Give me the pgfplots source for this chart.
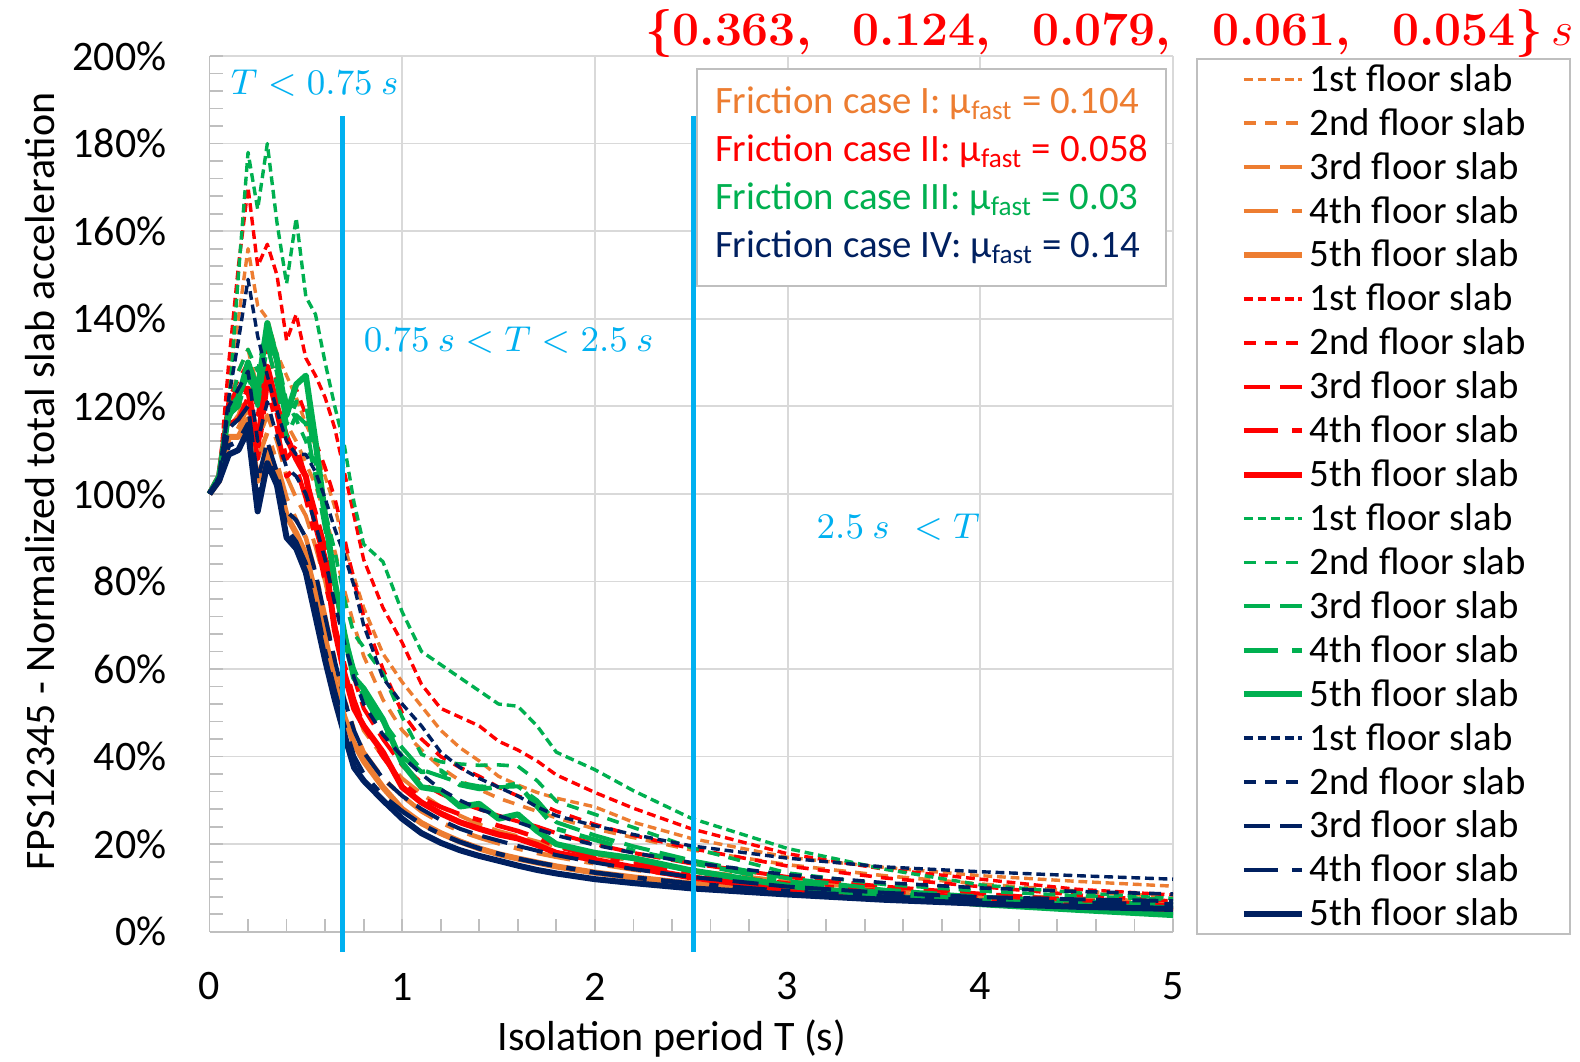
\documentclass[border=0pt]{standalone}
\usepackage{amsmath}
\usepackage{fontspec}
\setmainfont{Carlito}
\usepackage{pgfplots}
\pgfplotsset{compat=1.18}
\usepackage{pgfplotstable}

\definecolor{cOrange}{HTML}{ED7D31}
\definecolor{cRed}{HTML}{FF0000}
\definecolor{cGreen}{HTML}{00B050}
\definecolor{cNavy}{HTML}{002060}
\definecolor{cCyan}{HTML}{00B0F0}
\definecolor{gridgray}{HTML}{D9D9D9}
\definecolor{axisgray}{HTML}{BFBFBF}

% line styles of the five floor slabs
\pgfplotsset{
  slabA/.style={line width=0.85pt, dash pattern=on 2.2pt off 1.2pt},
  slabB/.style={line width=0.9pt, dash pattern=on 3pt off 2.3pt},
  slabC/.style={line width=1pt, dash pattern=on 6.5pt off 2.6pt},
  slabD/.style={line width=1.15pt, dash pattern=on 8.5pt off 3.6pt on 2.3pt off 3.6pt},
  slabE/.style={line width=1.5pt, solid},
}

% Friction case I
\pgfplotstableread{
T f1 f2 f3 f4 f5
0 100 100 100 100 100
0.05 104 104 103 103 103
0.1 125 120 115 112 113
0.15 140 128 118 115 113
0.2 156 133 124 120 117
0.25 143 124 112 108 103
0.3 140 128 118 114 110
0.35 132 122 112 107 104
0.4 127 116 104 99 95
0.45 122 112 99 94 91
0.5 116 107 95 90 86
0.55 111 102 88 82 77
0.6 104 95 80 72 67
0.65 97 87 70 62 57
0.7 88 78 60 53 49
0.75 81 70 52 46 43
0.8 74 63 46 41 39
0.9 63.5 53 40 35 33
1.0 57 46 35 31 28
1.1 51.5 41.5 31.5 27.5 24.8
1.2 46 37.5 28.5 25 22.5
1.3 42 34.5 26.5 23 20.6
1.4 39 32.5 24.5 21.5 19
1.5 35.5 30.5 23 20.2 17.7
1.6 33.5 29 21.8 19 16.7
1.7 31.8 27.5 20.6 18 15.8
1.8 30.5 26 19.5 17.1 14.9
2.0 28.5 23.5 17.6 15.6 13.5
2.2 25 21.5 16.2 14.2 12.4
2.5 21.3 18.7 14 12.5 11
3.0 17 15.3 11.5 10.3 9
3.5 14.7 12.8 9.8 8.8 7.7
4.0 12.8 10.9 8.5 7.6 6.6
4.5 11.5 9.3 7.6 6.6 5.7
5.0 10.4 8.0 6.8 5.8 5.0
}\caseI

% Friction case II
\pgfplotstableread{
T f1 f2 f3 f4 f5
0 100 100 100 100 100
0.05 104 104 103 103 104
0.1 130 122 118 116 120
0.15 152 126 120 117 124
0.2 170 130 124 122 124
0.25 152 118 110 108 111
0.3 157 134 127 125 129
0.35 150 125 118 115 120
0.4 135 120 108 104 113
0.45 141 124 111 106 108
0.5 131 118 104 99 104
0.55 127 112 96 90 93
0.6 122 106 88 80 85
0.65 115 99 78 70 69
0.7 105 90 68 61 59
0.75 95 80 58 53 51
0.8 85 72 51 47 47
0.9 74 60 44 40 41
1.0 66 50 38 34 33
1.1 56.5 44 34 30.5 29.5
1.2 51 40 31.5 28.5 27
1.3 49 37.5 29.5 26.8 25
1.4 47 35.5 28 25.5 23.5
1.5 43.5 33 26.5 24.2 22.2
1.6 41.5 31 25.2 23 21.3
1.7 39 29.5 24 21.5 19.8
1.8 35.8 27.5 22.5 19.5 18
2.0 31.8 24.5 20 17.2 16.4
2.2 28.2 22 18 15.5 14.7
2.5 23.5 19 15.6 13.5 12.4
3.0 17.8 15 12.5 11 9.6
3.5 14.3 12.3 10.3 9.2 7.8
4.0 12 10.3 8.7 7.7 6.4
4.5 9.7 8.4 7.2 6.5 5.4
5.0 8.4 7.0 6.0 5.5 4.7
}\caseII

% Friction case III
\pgfplotstableread{
T f1 f2 f3 f4 f5
0 100 100 100 100 100
0.05 103 104 103 104 104
0.1 120 118 117 118 119
0.15 150 128 122 120 122
0.2 178 133 127 128 130
0.25 165 128 120 121 123.5
0.3 180 139 134 136 139
0.35 162 132 125 128 130.5
0.4 148 121 113 116 118
0.45 163 117 118 121 125
0.5 145 112 116 121 127
0.55 141 105 104 108 112
0.6 130 96 92 94 95
0.65 120 87 80 80 80
0.7 111 76 68 68 68
0.75 98 68 60 58 58
0.8 88.5 65 55 54 55.5
0.9 84.5 59 48 46 48.5
1.0 73 49 42 40 38.5
1.1 64 40.5 37 36.5 33
1.2 61 38.8 35.5 36.8 32.3
1.3 58 38.3 34 33.5 28.6
1.4 55 38 33.2 32.6 29.2
1.5 52 38.1 33 33 25.8
1.6 51.5 37.8 33.2 33.8 26.8
1.7 47 34.5 30 28.5 23
1.8 41 29.8 25 23.5 20
2.0 37 26.8 22 21 18
2.2 32.2 23.8 19.5 18.5 16.8
2.5 25.9 19.2 16.3 15.7 14
3.0 19 13.4 12.2 11.5 10.5
3.5 14.3 10.8 9.6 8.9 8.2
4.0 10.7 9.3 8 7.2 6.3
4.5 8.9 8.2 7 6.2 5
5.0 7.6 7.3 6.3 5.5 3.8
}\caseIII

% Friction case IV
\pgfplotstableread{
T f1 f2 f3 f4 f5
0 100 100 100 100 100
0.05 104 104 103 103 103
0.1 122 120 115 111 109
0.15 135 124 117 112 110
0.2 149 128 120 116 114.5
0.25 136 112 103 98 96
0.3 127 121 112 108 107
0.35 119 113 105 103 102
0.4 112 106 96 92 90
0.45 109 104 94 89 87.5
0.5 109 100 90 84 82
0.55 105 93 82 75 72
0.6 99 85 72 64 62
0.65 92 75 62 55 53
0.7 86 66 53 47 45
0.75 79 58 46 40 37.5
0.8 70 52 41 36 34.5
0.9 58 45 35 31 30
1.0 52 40 31 27.5 25.8
1.1 47 36 28 24.5 22.5
1.2 41 32.5 25.5 22.3 20.3
1.3 37.5 30 23.5 20.5 18.6
1.4 35 28 22 19 17.3
1.5 33 26.5 20.8 17.8 16.2
1.6 31 25 19.6 16.7 15.1
1.7 28.5 23.5 18.5 15.8 14.1
1.8 26.5 22 17.5 15 13.3
2.0 24.2 19.8 15.8 13.5 12
2.2 22.2 18 14.3 12.4 11.1
2.5 19.6 15.8 12.5 11 9.9
3.0 16.8 13 10.3 9.2 8.5
3.5 14.8 11.2 8.9 8 7.3
4.0 13.7 10 7.9 7.1 6.4
4.5 12.8 9.2 7.4 6.6 5.7
5.0 12.0 8.6 7.0 6.2 5.2
}\caseIV

\begin{document}
\begin{tikzpicture}
\useasboundingbox (0,0) rectangle (395pt,265.25pt);
\begin{axis}[
  at={(52.375pt,32.325pt)}, anchor=south west,
  width=240.875pt, height=218.925pt, scale only axis,
  xmin=0, xmax=5, ymin=0, ymax=200,
  enlargelimits=false,
  clip=false,
  axis lines=left,
  axis line style={-, draw=axisgray, line width=0.45pt},
  xtick={0,1,2,3,4,5},
  xticklabels={0,1,2,3,4,5},
  ytick={0,20,40,60,80,100,120,140,160,180,200},
  yticklabels={0\%,20\%,40\%,60\%,80\%,100\%,120\%,140\%,160\%,180\%,200\%},
  minor x tick num=4,
  minor y tick num=4,
  grid=major,
  major grid style={draw=gridgray, line width=0.45pt},
  tick align=inside,
  major tick length=3.3pt, minor tick length=3.3pt,
  tick style={draw=axisgray, line width=0.45pt},
  ticklabel style={font=\fontsize{10.5}{12.6}\selectfont, inner sep=0pt},
  xticklabel style={anchor=center, yshift=-13.7pt},
  yticklabel style={anchor=east, xshift=-10.55pt},
  xlabel={Isolation period T (s)},
  ylabel={FPS12345 - Normalized total slab acceleration},
  xlabel style={at={(axis description cs:0.48,-0.1214)}, anchor=center, font=\fontsize{10.5}{12.6}\selectfont, inner sep=0pt},
  ylabel style={at={(axis description cs:-0.1756,0.514)}, anchor=center, font=\fontsize{10.5}{12.6}\selectfont, inner sep=0pt},
  every axis plot/.append style={line join=round},
  legend image code/.code={\draw[#1] (0pt,0pt) -- (14.5pt,0pt);},
  legend cell align=left,
  legend style={
    at={(1.0239,0.99726)}, anchor=north west,
    draw=axisgray, line width=0.45pt, fill=white,
    inner xsep=11pt, inner ysep=0pt,
    row sep=0.98pt, column sep=1.25pt,
    font=\fontsize{9.7}{11}\selectfont,
    nodes={inner sep=0pt, text height=8pt, text depth=2pt},
  },
]
% case I
\addplot[cOrange, slabA] table[x=T, y=f1] {\caseI};
\addlegendentry{1st floor slab}
\addplot[cOrange, slabB] table[x=T, y=f2] {\caseI};
\addlegendentry{2nd floor slab}
\addplot[cOrange, slabC] table[x=T, y=f3] {\caseI};
\addlegendentry{3rd floor slab}
\addplot[cOrange, slabD] table[x=T, y=f4] {\caseI};
\addlegendentry{4th floor slab}
\addplot[cOrange, slabE] table[x=T, y=f5] {\caseI};
\addlegendentry{5th floor slab}
% case II
\addplot[cRed, slabA] table[x=T, y=f1] {\caseII};
\addlegendentry{1st floor slab}
\addplot[cRed, slabB] table[x=T, y=f2] {\caseII};
\addlegendentry{2nd floor slab}
\addplot[cRed, slabC] table[x=T, y=f3] {\caseII};
\addlegendentry{3rd floor slab}
\addplot[cRed, slabD] table[x=T, y=f4] {\caseII};
\addlegendentry{4th floor slab}
\addplot[cRed, slabE] table[x=T, y=f5] {\caseII};
\addlegendentry{5th floor slab}
% case III
\addplot[cGreen, slabA] table[x=T, y=f1] {\caseIII};
\addlegendentry{1st floor slab}
\addplot[cGreen, slabB] table[x=T, y=f2] {\caseIII};
\addlegendentry{2nd floor slab}
\addplot[cGreen, slabC] table[x=T, y=f3] {\caseIII};
\addlegendentry{3rd floor slab}
\addplot[cGreen, slabD] table[x=T, y=f4] {\caseIII};
\addlegendentry{4th floor slab}
\addplot[cGreen, slabE] table[x=T, y=f5] {\caseIII};
\addlegendentry{5th floor slab}
% case IV
\addplot[cNavy, slabA] table[x=T, y=f1] {\caseIV};
\addlegendentry{1st floor slab}
\addplot[cNavy, slabB] table[x=T, y=f2] {\caseIV};
\addlegendentry{2nd floor slab}
\addplot[cNavy, slabC] table[x=T, y=f3] {\caseIV};
\addlegendentry{3rd floor slab}
\addplot[cNavy, slabD] table[x=T, y=f4] {\caseIV};
\addlegendentry{4th floor slab}
\addplot[cNavy, slabE] table[x=T, y=f5] {\caseIV};
\addlegendentry{5th floor slab}

% period range boundaries
\addplot[cCyan, line width=1.3pt, forget plot] coordinates {(0.69,-4.6) (0.69,186.3)};
\addplot[cCyan, line width=1.3pt, forget plot] coordinates {(2.51,-4.6) (2.51,186.3)};

% range labels
\begin{scope}[every node/.style={text=cCyan, inner sep=0pt, anchor=base west, font=\fontsize{9.15}{11}\selectfont}]
\node at (axis cs:0.107,191.1) {$T < 0.75\ s$};
\node at (axis cs:0.797,132.4) {$0.75\ s < T < 2.5\ s$};
\node at (axis cs:3.147,89.8) {$2.5\ s\ \, < T$};
\end{scope}

% friction coefficients box
\draw[draw=axisgray, fill=white, line width=0.45pt] (axis cs:2.53,147.5) rectangle (axis cs:4.964,197.1);
\begin{scope}[every node/.style={inner sep=0pt, anchor=base west, font=\fontsize{9.7}{11}\selectfont}]
\node[text=cOrange] at (axis cs:2.62,186.8) {Friction case I: μ\textsubscript{fast} = 0.104};
\node[text=cRed] at (axis cs:2.62,176.0) {Friction case II: μ\textsubscript{fast} = 0.058};
\node[text=cGreen] at (axis cs:2.62,164.9) {Friction case III: μ\textsubscript{fast} = 0.03};
\node[text=cNavy] at (axis cs:2.62,153.9) {Friction case IV: μ\textsubscript{fast} = 0.14};
\end{scope}
\end{axis}

% isolation periods
\node[anchor=base east, inner sep=0pt, text=cRed, font=\fontsize{12}{14}\selectfont]
  at (393.5pt,253.9pt)
  {{\boldmath$\{0.363,\hspace{8pt}0.124,\hspace{8pt}0.079,\hspace{8pt}0.061,\hspace{8pt}0.054\}$}\,$s$};
\end{tikzpicture}
\end{document}
